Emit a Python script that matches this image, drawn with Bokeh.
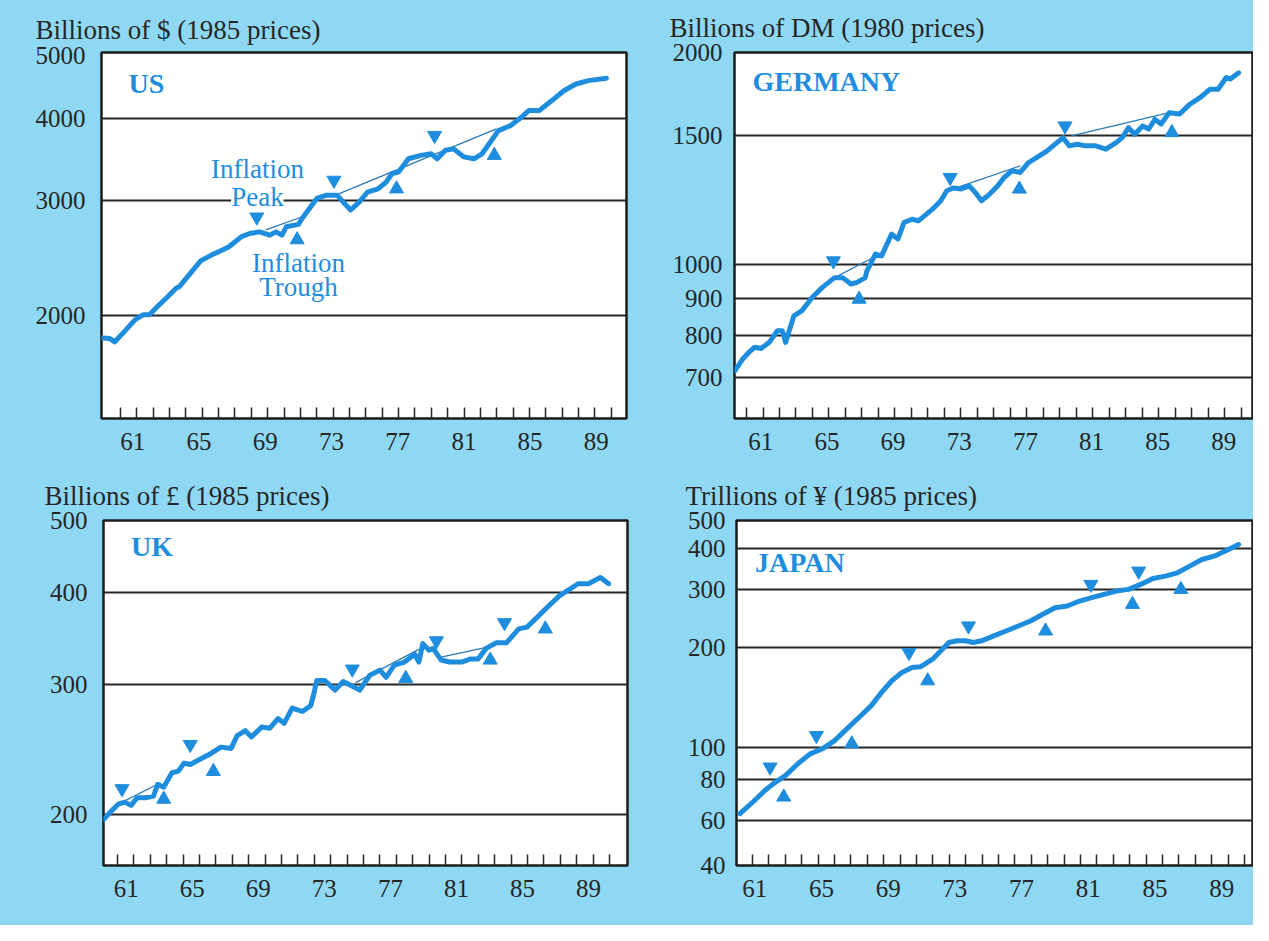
from bokeh.plotting import figure
from bokeh.layouts import column, row
from bokeh.models import (FixedTicker, Label, CustomJSTickFormatter, BasicTickFormatter,
                          LinearAxis)
from bokeh.embed import file_html
from bokeh.resources import INLINE

# ---------------- data ----------------
# US, billions of $ (1985 prices)
us_year = [1959.9, 1960.35, 1960.65, 1961.15, 1961.9, 1962.4, 1962.77, 1963.26, 1963.9, 1964.4,
           1964.6, 1965.27, 1965.9, 1966.5, 1967.26, 1967.63, 1968.4, 1968.9, 1969.5, 1970.13,
           1970.5, 1970.87, 1971.13, 1971.88, 1972.1, 1973.0, 1973.6, 1974.25, 1974.6, 1975.07,
           1975.6, 1976.1, 1976.74, 1977.24, 1977.6, 1978.0, 1978.6, 1979.36, 1979.98, 1980.36,
           1980.86, 1981.36, 1981.98, 1982.6, 1983.1, 1983.6, 1984.1, 1984.85, 1985.5, 1985.97,
           1986.6, 1987.35, 1988.1, 1988.84, 1989.6, 1990.7]
us_gnp = [1846, 1843, 1822, 1879, 1970, 2005, 2005, 2064, 2138, 2201,
          2214, 2320, 2424, 2470, 2521, 2548, 2641, 2670, 2686, 2655,
          2686, 2655, 2734, 2758, 2816, 3022, 3057, 3057, 2986, 2901,
          2986, 3091, 3126, 3202, 3300, 3318, 3476, 3518, 3538, 3476,
          3582, 3600, 3500, 3476, 3538, 3684, 3840, 3908, 4024, 4122,
          4122, 4265, 4420, 4526, 4580, 4620]
us_peak_year = [1969.33, 1974.05, 1980.2]
us_peak_val = [2830, 3222, 3774]
us_trough_year = [1971.8, 1977.87, 1983.85]
us_trough_val = [2612, 3126, 3518]
us_trend_x = [[1969.88, 1972.12], [1974.37, 1983.98]]
us_trend_y = [[2704, 2833], [3074, 3864]]

# Germany, billions of DM (1980 prices)
de_year = [1960.3, 1960.77, 1961.15, 1961.5, 1961.88, 1962.38, 1962.87, 1963.17, 1963.37, 1963.87,
           1964.36, 1964.98, 1965.6, 1966.34, 1966.83, 1967.33, 1967.7, 1968.2, 1968.3, 1968.82,
           1969.19, 1969.8, 1970.18, 1970.55, 1971.04, 1971.42, 1971.79, 1972.28, 1972.78, 1973.15,
           1973.52, 1974.02, 1974.51, 1974.88, 1975.25, 1975.75, 1976.24, 1976.62, 1977.11, 1977.6,
           1978.1, 1978.59, 1979.21, 1979.83, 1980.2, 1980.57, 1981.07, 1981.56, 1982.18, 1982.8,
           1983.42, 1983.79, 1984.17, 1984.54, 1985.03, 1985.4, 1985.77, 1986.14, 1986.64, 1987.26,
           1987.88, 1988.5, 1989.12, 1989.6, 1990.1, 1990.35, 1990.85]
de_gnp = [716, 743, 759, 771, 768, 783, 812, 812, 783, 851,
          865, 902, 931, 960, 960, 941, 946, 960, 981, 1034,
          1028, 1101, 1084, 1142, 1154, 1148, 1166, 1191, 1223, 1262,
          1273, 1269, 1282, 1255, 1223, 1249, 1282, 1316, 1344, 1337,
          1379, 1401, 1430, 1469, 1492, 1454, 1461, 1454, 1454, 1439,
          1469, 1492, 1540, 1508, 1548, 1533, 1581, 1557, 1614, 1607,
          1657, 1692, 1738, 1738, 1803, 1795, 1830]
de_peak_year = [1966.27, 1973.35, 1980.32]
de_peak_val = [1012, 1316, 1548]
de_trough_year = [1967.83, 1977.55, 1986.8]
de_trough_val = [897, 1269, 1516]
de_trend_x = [[1966.46, 1968.69], [1973.76, 1977.6], [1980.7, 1986.64]]
de_trend_y = [[963, 1023], [1275, 1365], [1500, 1614]]

# UK, billions of pounds (1985 prices)
uk_year = [1960.15, 1960.59, 1961.08, 1961.46, 1961.83, 1962.2, 1962.7, 1963.2, 1963.45, 1963.82,
           1964.32, 1964.69, 1965.07, 1965.44, 1966.06, 1966.68, 1967.31, 1967.93, 1968.3, 1968.8,
           1969.17, 1969.8, 1970.29, 1970.79, 1971.16, 1971.66, 1972.28, 1972.78, 1972.98, 1973.15,
           1973.65, 1974.27, 1974.77, 1975.27, 1975.77, 1976.39, 1977.01, 1977.38, 1977.88, 1978.5,
           1979.13, 1979.38, 1979.62, 1980.0, 1980.25, 1980.74, 1981.24, 1981.99, 1982.49, 1982.99,
           1983.48, 1984.1, 1984.73, 1985.47, 1985.97, 1986.47, 1987.21, 1987.96, 1988.58, 1989.08,
           1989.71, 1990.45, 1990.95]
uk_gdp = [197, 202, 207, 208, 206, 211, 211, 212, 220, 218,
          228, 229, 235, 234, 238, 242, 247, 246, 256, 260,
          255, 263, 262, 270, 266, 279, 276, 281, 292, 304,
          304, 295, 303, 299, 295, 309, 314, 307, 319, 322,
          330, 322, 341, 334, 336, 324, 322, 322, 325, 325,
          336, 342, 342, 357, 359, 368, 382, 396, 404, 411,
          411, 419, 411]
uk_peak_year = [1961.28, 1965.44, 1975.32, 1980.45, 1984.6]
uk_peak_val = [217, 249, 315, 344, 364]
uk_trough_year = [1963.82, 1966.85, 1978.58, 1983.73, 1987.09]
uk_trough_val = [210, 229, 306, 324, 357]
uk_trend_x = [[1961.08, 1963.45], [1975.52, 1979.38], [1980.74, 1983.48]]
uk_trend_y = [[207, 220], [302, 335], [327, 337]]

# Japan, trillions of yen (1985 prices)
jp_year = [1960.23, 1961.02, 1961.77, 1962.27, 1963.02, 1963.76, 1964.51, 1965.26, 1966.0, 1966.75,
           1967.5, 1968.24, 1968.87, 1969.49, 1970.11, 1970.73, 1971.23, 1971.98, 1972.48, 1972.98,
           1973.47, 1973.97, 1974.47, 1974.96, 1975.71, 1976.46, 1977.2, 1977.95, 1978.7, 1979.45,
           1980.19, 1980.94, 1981.68, 1982.43, 1983.18, 1983.93, 1984.67, 1985.42, 1986.17, 1986.91,
           1987.66, 1988.4, 1989.15, 1989.9, 1990.64]
jp_gnp = [63.0, 68.3, 74.1, 77.6, 82.2, 89.1, 95.5, 98.9, 104.7, 113.6,
          123.2, 133.6, 146.5, 158.8, 168.3, 174.2, 175.0, 184.6, 195.6, 207.3,
          209.7, 209.7, 207.3, 209.7, 217.0, 224.6, 232.5, 240.8, 252.2, 264.1,
          267.2, 276.6, 283.1, 289.8, 296.5, 300.0, 310.5, 323.7, 329.0, 336.7,
          352.6, 369.3, 378.0, 393.0, 410.0]
jp_peak_year = [1962.07, 1964.89, 1970.54, 1974.17, 1981.63, 1984.55]
jp_peak_val = [87.1, 108.5, 193.3, 232.5, 310.5, 340.6]
jp_trough_year = [1962.9, 1967.05, 1971.68, 1978.87, 1984.17, 1987.12]
jp_trough_val = [70.7, 102.4, 158.8, 224.6, 270.3, 300.0]

# axis labels
tick_years = list(range(1961, 1992))
label_years = [1961, 1965, 1969, 1973, 1977, 1981, 1985, 1989]
label_text = ["61", "65", "69", "73", "77", "81", "85", "89"]

# ---------------- styling ----------------
BLUE = "#1f8ddd"
BG = "#8fd8f3"
INK = "#262626"
SERIF = "Liberation Serif"


def panel(title, t_off, t_standoff, w, h, borders, xr, yr, yticks, ygrid, overrides, y_standoff,
          lab_off, lab_stretch, xs, ys, px, py, tx, ty, trend_x, trend_y,
          name, name_xy):
    bl, br, bt, bb = borders
    p = figure(width=w, height=h, x_range=xr, y_range=yr, y_axis_type="log",
               output_backend="svg", toolbar_location=None,
               min_border_left=bl, min_border_right=br, min_border_top=bt, min_border_bottom=bb)
    p.background_fill_color = "white"
    p.border_fill_color = BG
    p.outline_line_color = "#1c1c1c"
    p.outline_line_width = 2.5

    p.title.text = title
    p.title.align = "left"
    p.title.offset = t_off
    p.title.standoff = t_standoff
    p.title.text_font = SERIF
    p.title.text_font_size = "27px"
    p.title.text_font_style = "normal"
    p.title.text_color = INK

    # x axis 1: inward yearly tick marks, no labels
    xa = p.xaxis[0]
    xa.ticker = FixedTicker(ticks=tick_years)
    xa.formatter = CustomJSTickFormatter(code="return '';")
    xa.major_tick_in = 11
    xa.major_tick_out = 0
    xa.major_tick_line_color = INK
    xa.major_tick_line_width = 1.5
    xa.minor_tick_line_color = None
    xa.axis_line_color = None
    xa.major_label_standoff = 0
    xa.major_label_text_font_size = "1px"

    # x axis 2: year labels
    lab_pos = [1961 + lab_off + (y - 1961) * lab_stretch for y in label_years]
    xb = LinearAxis(ticker=FixedTicker(ticks=lab_pos),
                    formatter=CustomJSTickFormatter(
                        args=dict(pos=lab_pos, txt=label_text),
                        code="const i = pos.findIndex(v => Math.abs(v - tick) < 1e-6); "
                             "return i < 0 ? '' : txt[i];"),
                    major_tick_line_color=None, major_tick_in=0, major_tick_out=0,
                    minor_tick_line_color=None, axis_line_color=None,
                    major_label_standoff=14, major_label_text_font=SERIF,
                    major_label_text_font_size="25px", major_label_text_color=INK)
    p.add_layout(xb, "below")

    ya = p.yaxis[0]
    ya.ticker = FixedTicker(ticks=yticks)
    ya.formatter = BasicTickFormatter(use_scientific=False)
    ya.major_label_overrides = overrides
    ya.major_tick_line_color = None
    ya.major_tick_in = 0
    ya.major_tick_out = 0
    ya.minor_tick_line_color = None
    ya.axis_line_color = None
    ya.major_label_standoff = y_standoff
    ya.major_label_text_font = SERIF
    ya.major_label_text_font_size = "25px"
    ya.major_label_text_color = INK

    p.xgrid.visible = False
    p.ygrid.ticker = FixedTicker(ticks=ygrid)
    p.ygrid.grid_line_color = INK
    p.ygrid.grid_line_width = 2

    if trend_x:
        p.multi_line(trend_x, trend_y, line_color="#2a78b8", line_width=1.3)
    p.line(xs, ys, line_color=BLUE, line_width=5, line_join="round", line_cap="round")
    p.scatter(px, py, marker="inverted_triangle", size=14, fill_color=BLUE, line_color=BLUE,
              level="overlay")
    p.scatter(tx, ty, marker="triangle", size=14, fill_color=BLUE, line_color=BLUE,
              level="overlay")

    p.add_layout(Label(x=name_xy[0], y=name_xy[1], text=name, text_font=SERIF,
                       text_font_style="bold", text_font_size="28px", text_color=BLUE,
                       text_baseline="alphabetic"))
    return p


p_us = panel("Billions of $ (1985 prices)", -66, 15, 630, 464, (101, 4, 50, 46),
             (1959.84, 1991.93), (1390, 5058), [2000, 3000, 4000, 5000], [2000, 3000, 4000], {}, 16,
             0.75, 1.012, us_year, us_gnp, us_peak_year, us_peak_val, us_trough_year, us_trough_val,
             us_trend_x, us_trend_y, "US", (1961.49, 4539))

ann = dict(text_font=SERIF, text_font_size="27px", text_color=BLUE,
           text_align="center", text_baseline="alphabetic")
p_us.add_layout(Label(x=1969.37, y=3352, text="Inflation", **ann))
p_us.add_layout(Label(x=1969.37, y=3039, text="Peak", background_fill_color="white",
                      padding=0, **ann))
p_us.add_layout(Label(x=1971.88, y=2409, text="Inflation", **ann))
p_us.add_layout(Label(x=1971.88, y=2208, text="Trough", **ann))

p_de = panel("Billions of DM (1980 prices)", -65, 19, 623, 464, (104, 1, 52, 46),
             (1960.27, 1991.69), (616, 1951), [700, 800, 900, 1000, 1500, 1950],
             [700, 800, 900, 1000, 1500], {1950: "2000"}, 12,
             0.867, 1.003, de_year, de_gnp, de_peak_year, de_peak_val, de_trough_year, de_trough_val,
             de_trend_x, de_trend_y, "GERMANY", (1961.36, 1778))

p_uk = panel("Billions of £ (1985 prices)", -59, 20, 630, 461, (103, 3, 56, 59),
             (1960.15, 1992.1), (170.8, 500.5), [200, 300, 400, 500], [200, 300, 400], {}, 16,
             0.53, 1.007, uk_year, uk_gdp, uk_peak_year, uk_peak_val, uk_trough_year, uk_trough_val,
             uk_trend_x, uk_trend_y, "UK", (1961.83, 461))

p_jp = panel("Trillions of ¥ (1985 prices)", -51, 19, 623, 461, (106, 1, 55, 60),
             (1960.02, 1991.49), (43.9, 484.5), [44, 60, 80, 100, 200, 300, 400, 484],
             [60, 80, 100, 200, 300, 400], {44: "40", 484: "500"}, 11,
             0.134, 1.017, jp_year, jp_gnp, jp_peak_year, jp_peak_val, jp_trough_year, jp_trough_val,
             [], [], "JAPAN", (1961.15, 362.5))

bgstyle = {"background-color": BG}
layout = column(row(p_us, p_de, styles=bgstyle), row(p_uk, p_jp, styles=bgstyle), styles=bgstyle)
open("out.html", "w").write(file_html(layout, INLINE))
